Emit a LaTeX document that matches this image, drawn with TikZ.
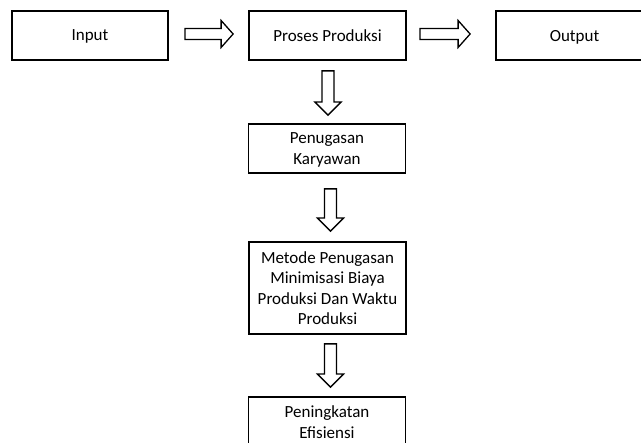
\documentclass[tikz,border=0pt]{standalone}
\usepackage{fontspec}
\setmainfont{Carlito}
\usetikzlibrary{calc}

\tikzset{
  box/.style={draw, line width=1.8pt, minimum width=157, minimum height=49,
    align=center, inner sep=2pt, text depth=0pt,
    font=\fontsize{17}{20.5}\selectfont},
  blockarrow/.style={draw, line width=1.3pt, fill=white, line join=miter}
}

% horizontal block arrow between two nodes: #1 from, #2 to, #3 gap after #1, #4 gap before #2
\newcommand\harrowblk[4]{%
  \draw[blockarrow] let \p1=($(#1.east)+(#3,-1.5)$), \p2=($(#2.west)+(-#4,-1.5)$) in
    (\x1,\y1+5.5pt) -- (\x2-12pt,\y1+5.5pt) -- (\x2-12pt,\y1+13.5pt) -- (\x2,\y1)
    -- (\x2-12pt,\y1-13.5pt) -- (\x2-12pt,\y1-5.5pt) -- (\x1,\y1-5.5pt) -- cycle;}

% vertical block arrow between two nodes: #1 from, #2 to, #3 gap, #4 gap, #5 sideways shift
\newcommand\varrowblk[5]{%
  \draw[blockarrow] let \p1=($(#1.south)+(#5,#3)$), \p2=($(#2.north)+(#5,-#4)$) in
    (\x1-6pt,\y1) -- (\x1-6pt,\y2+13pt) -- (\x1-13pt,\y2+13pt) -- (\x1,\y2)
    -- (\x1+13pt,\y2+13pt) -- (\x1+6pt,\y2+13pt) -- (\x1+6pt,\y1) -- cycle;}

\begin{document}
\begin{tikzpicture}[x=1pt, y=-1pt]
  \useasboundingbox (0,0) rectangle (641,443);

  \node[box, minimum width=156] (in)  at (90,35.5)    {Input};
  \node[box] (pp)  at (327.5,35.5)  {Proses Produksi};
  \node[box] (out) at (574.5,35.5)  {Output};
  \node[box] (pk)  at (327,148.5)   {Penugasan\\Karyawan};
  \node[box, minimum height=92] (mp) at (327.5,288)
    {Metode Penugasan\\Minimisasi Biaya\\Produksi Dan Waktu\\Produksi};
  \node[box, minimum height=50] (ef) at (327,422) {Peningkatan\\Efisiensi};

  \harrowblk{in}{pp}{16}{15}
  \harrowblk{pp}{out}{13}{25}
  \varrowblk{pp}{pk}{10}{8}{0.5}
  \varrowblk{pk}{mp}{15}{10}{3.5}
  \varrowblk{mp}{ef}{9}{9}{3}
\end{tikzpicture}
\end{document}
